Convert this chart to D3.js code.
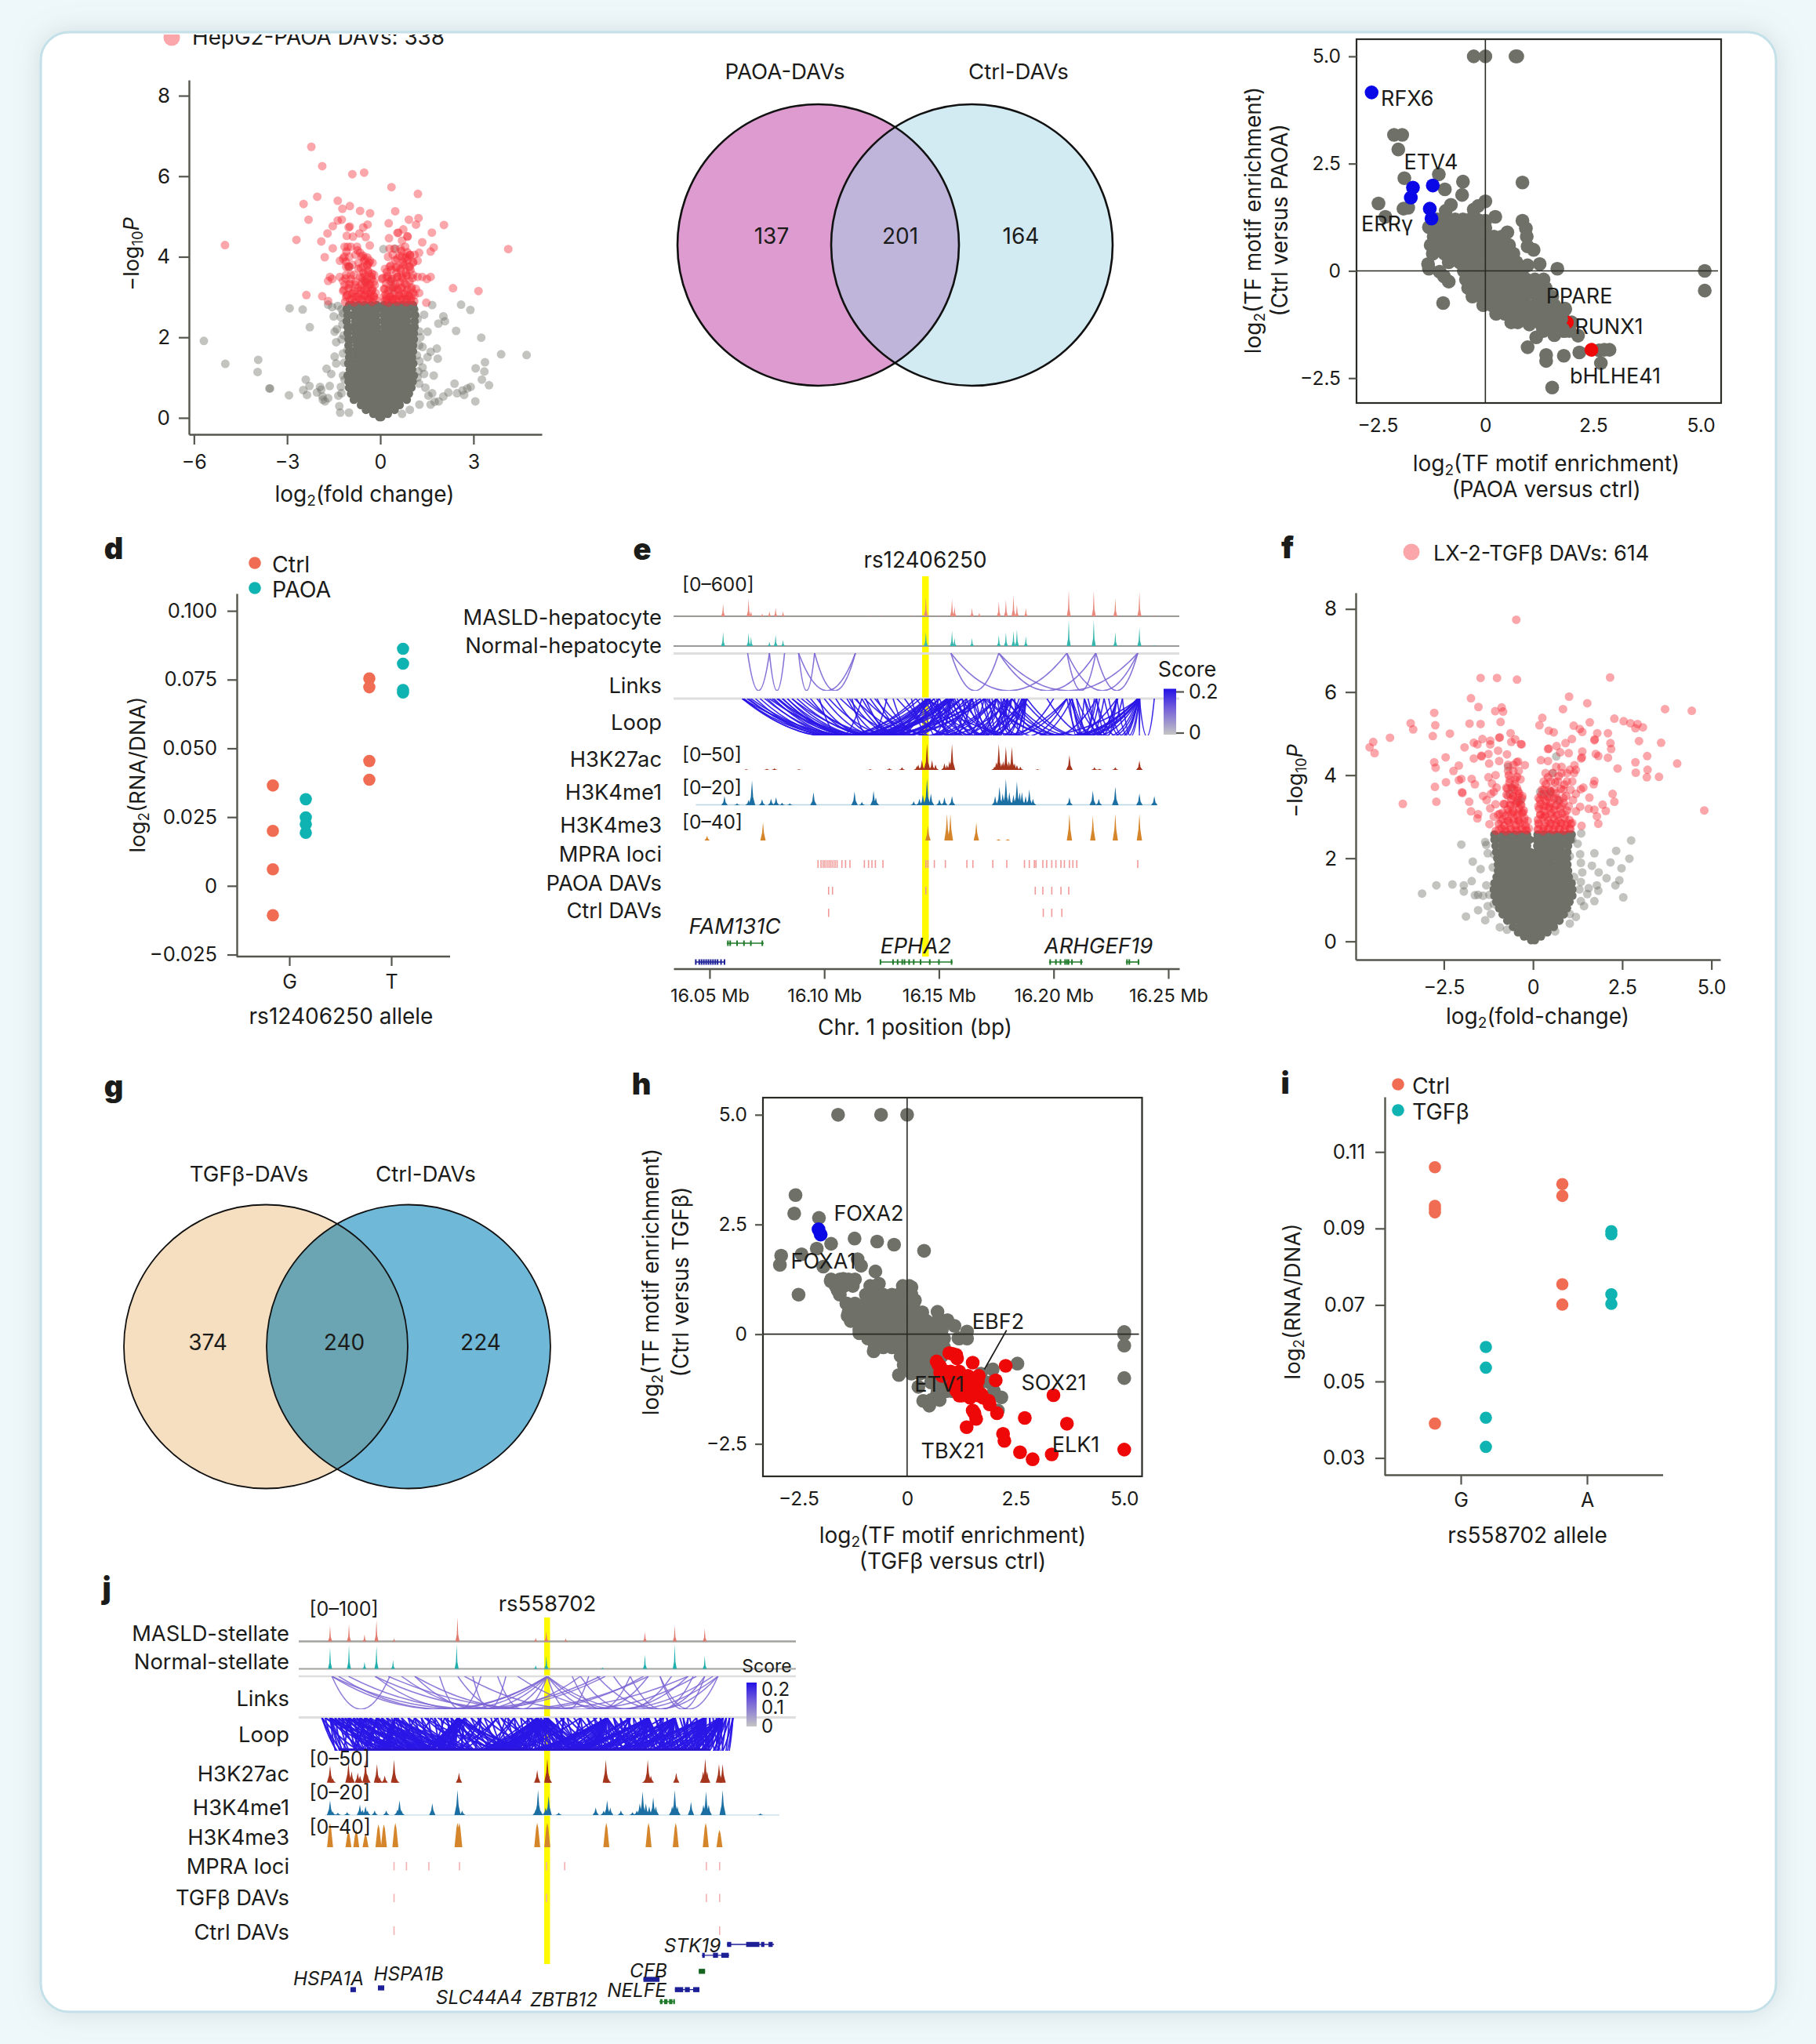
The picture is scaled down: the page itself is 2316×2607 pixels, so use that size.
<!DOCTYPE html>
<html><head><meta charset="utf-8">
<script src="https://cdnjs.cloudflare.com/ajax/libs/d3/7.8.5/d3.min.js"></script>
<style>
html,body{margin:0;padding:0;background:#eef7f9}
svg{display:block}
text{font-family:Inter,"Noto Sans",sans-serif;fill:#1b1b19}
</style></head><body>
<script>
// ---- panel a: HepG2-PAOA volcano, [log2FC, -log10P] ----
const aGrey=[[-2.92,2.72],[-2.5,2.69],[-2.27,2.25],[-5.68,1.91],[-4.99,1.34],[-3.93,1.44],[-3.95,1.14],[-3.57,.73],[-3.55,.73],[-2.94,.56],[-2.4,.95],[-2.28,.79],[-2.48,.69],[-2.36,.57],[-1.94,.77],[-2.04,.63],[-1.86,.53],[-1.63,.79],[-1.78,.41],[-1.68,.49],[-1.32,.29],[-1.29,.13],[-1.01,.13],[-1.73,1.22],[-1.58,1.09],[-1.47,1.52],[-1.16,1.37],[-1.42,1.88],[-1.25,1.95],[-1.47,2.14],[-1.22,2.32],[-1.5,2.52],[-1.27,2.5],[-1.68,2.81],[-1.37,2.78],[-1.06,1.68],[-1.27,.77],[-1.25,.61],[-1.9,.7],[-1.85,.45],[-1.42,1.35],[-1.2,1.05],[-1.35,.55],[-1.15,.95],[-1.4,2.2],[-1.25,2.7],[-1.55,2.75],[-1.2,1.6],[-1.18,2.05],[-1.2,2.6],
[1.67,2.8],[2.6,2.81],[2.9,2.68],[2.03,2.52],[2.08,2.4],[1.87,2.34],[1.41,2.56],[2.44,2.16],[1.52,2.14],[3.25,1.99],[1.82,1.72],[1.62,1.64],[1.52,1.51],[1.85,1.47],[3.89,1.58],[4.71,1.56],[3.37,1.38],[3.07,1.23],[3.35,1.15],[3.27,.95],[3.5,.81],[2.39,.85],[2.91,.77],[2.8,.73],[2.65,.68],[2.47,.61],[2.7,.57],[3.06,.41],[2.19,.63],[2.03,.53],[1.67,.61],[1.88,.41],[1.62,.33],[1.26,.33],[1.41,1.09],[1.36,1.25],[1.26,1.41],[1.36,1.76],[1.29,2.0],[1.1,2.32],[1.1,2.68],[1.25,.85],[1.45,.75],[1.25,1.8],[1.18,1.55],[1.22,1.15],[1.72,1.05],[1.55,.55],[1.75,.4],[.95,.2],[.7,.1],[1.2,2.45],[1.25,2.15],[1.2,1.0],[.1,4.19],[.48,4.2],[-1.0,3.75],[.35,3.4],[.85,2.95],[-.5,3.4],[.4,3.2]];
const aCoreRows=[[.02,[-.03,.03]],[.1,[-.22,-.06,.08,.24]],[.2,[-.46,-.28,-.1,.1,.28,.46]],[.32,[-.62,-.42,-.22,-.02,.18,.4,.62]],[.45,[-.85,-.62,-.42,-.2,0,.2,.42,.62,.85]],[.6,[-.94,-.72,-.5,-.3,-.1,.1,.3,.5,.72,.92]],[.75,[-1.0,-.8,-.6,-.4,-.2,0,.2,.4,.6,.8,1.0]],[.9,[-1.02,-.9,-.7,-.5,-.3,-.1,.1,.3,.5,.7,.9,1.04]],[1.05,[-1.05,-.85,-.65,-.45,-.25,-.05,.15,.35,.55,.75,.95,1.08]],[1.2,[-.98,-.75,-.55,-.35,-.15,.05,.25,.45,.65,.85,1.02]],[1.35,[-1.03,-.85,-.65,-.45,-.25,-.05,.15,.35,.55,.75,.95,1.06]],[1.5,[-1.0,-.75,-.55,-.35,-.15,.05,.25,.45,.65,.85,1.02]],[1.65,[-1.0,-.85,-.65,-.45,-.25,-.05,.15,.35,.55,.75,.95,1.05]],[1.8,[-1.02,-.75,-.55,-.35,-.15,.05,.25,.45,.65,.85,1.05]],[1.95,[-1.02,-.85,-.65,-.45,-.25,-.07,.15,.35,.55,.75,.95,1.08]],[2.1,[-1.05,-.8,-.6,-.4,-.2,-.06,.1,.3,.5,.7,.9,1.08]],[2.25,[-1.05,-.9,-.7,-.5,-.3,-.12,.12,.3,.5,.7,.9,1.1]],[2.4,[-1.08,-.8,-.6,-.4,-.2,-.1,.11,.25,.45,.65,.85,1.1]],[2.55,[-1.05,-.9,-.7,-.5,-.3,-.13,.11,.3,.5,.7,.9,1.12]],[2.7,[-1.08,-.8,-.6,-.4,-.2,-.1,.1,.25,.45,.65,.85,1.08]],[2.8,[-1.0,-.9,-.7,-.5,-.3,-.12,.12,.3,.5,.7,.9,1.05]]];
const aRed=[[-2.22,6.73],[-1.87,6.25],[-.9,6.05],[-.52,6.09],[.36,5.73],[1.21,5.56],[-2.03,5.49],[-2.47,5.31],[-1.37,5.39],[-1.22,5.19],[-.98,5.26],[-.65,5.14],[-.33,5.08],[.48,5.13],[1.23,4.96],[.92,4.92],[1.15,4.8],[2.05,4.79],[-2.31,4.92],[-1.24,4.92],[-1.37,4.9],[-1.53,4.76],[-1.02,4.73],[-.98,4.75],[-.41,4.8],[-.55,4.73],[.27,4.83],[-1.7,4.58],[.74,4.68],[.55,4.59],[.58,4.6],[.87,4.51],[.88,4.5],[1.66,4.6],[1.35,4.36],[-2.7,4.42],[-1.9,4.38],[-1.08,4.52],[-.88,4.5],[-.47,4.49],[-.67,4.58],[.28,4.46],[-5.0,4.29],[4.12,4.19],[-.34,4.28],[1.72,4.23],[1.62,4.13],[-1.53,4.21],[-1.79,3.99],[2.34,3.22],[3.16,3.15],[-2.38,3.05],[-1.87,3.02],[-1.68,2.9],[1.48,2.86],
[-1.3,3.5],[-1.2,3.4],[-1.62,3.5],[-1.68,3.4],[-1.55,3.45],[-1.1,3.0],[-1.2,3.15],[-1.0,3.3],[-.9,3.1],[-.8,3.3],[-.7,3.0],[-.6,3.2],[-.5,3.05],[-.4,3.0],[-.3,3.0],[-.2,3.0],[-.55,3.4],[-.45,3.35],[-.35,3.3],[-.25,3.2],[-.65,3.5],[-.5,3.55],[-.38,3.6],[-.28,3.45],[-.18,3.3],[-.7,3.7],[-.55,3.75],[-.42,3.8],[-.33,3.9],[-.25,3.85],[-1.0,3.75],[-1.1,3.75],[-.9,3.8],[-1.3,3.9],[-1.2,3.95],[-1.0,4.0],[-.8,4.05],[-.65,4.1],[-.75,4.25],[-.6,4.0],[-.5,3.95],[-1.15,4.25],[-1.05,4.25],[-.95,4.25],[-.7,3.85],[-.85,3.55],[-.95,3.45],[-1.1,3.55],[-1.15,3.3],[-.45,3.15],[-.65,3.15],[-.85,3.0],[-1.05,3.05],[-.3,3.15],[-.2,3.55],[-.15,3.1],[-.9,2.95],[-.6,2.95],[-.35,2.95],[-.95,3.55],
[.1,3.0],[.2,2.95],[.3,3.0],[.4,3.0],[.5,2.95],[.6,3.05],[.7,3.0],[.8,3.1],[.9,3.05],[1.0,3.0],[1.1,3.05],[.15,3.2],[.3,3.2],[.45,3.25],[.55,3.2],[.7,3.25],[.85,3.3],[1.0,3.2],[1.15,3.2],[1.25,3.1],[.05,3.45],[.2,3.5],[.35,3.45],[.55,3.5],[.7,3.5],[.85,3.55],[1.05,3.55],[1.2,3.5],[1.35,3.5],[1.5,3.45],[1.62,3.5],[.15,3.7],[.3,3.75],[.5,3.75],[.65,3.7],[.8,3.8],[.95,3.75],[1.05,3.85],[1.2,3.9],[.25,4.0],[.4,4.05],[.55,3.95],[.7,4.0],[.85,4.0],[.95,4.05],[1.1,4.05],[1.25,4.1],[.3,4.2],[.45,4.2],[.65,4.2],[.8,4.25],[.7,4.4],[.2,3.0],[.4,2.95],[.65,2.95],[.85,2.95]];
const aRedDense=[[-1.13,2.88],[-.97,2.93],[-.84,2.87],[-.68,2.95],[-.56,2.89],[-.41,2.94],[-.27,2.88],[-.14,2.93],[.13,2.9],[.27,2.86],[.39,2.94],[.54,2.88],[.71,2.93],[.83,2.87],[.98,2.92],[1.09,2.89],[-1.08,3.04],[-.91,3.09],[-.76,3.01],[-.63,3.08],[-.49,3.03],[-.33,3.09],[-.21,3.02],[.17,3.06],[.33,3.01],[.46,3.09],[.61,3.03],[.78,3.08],[.93,3.02],[1.06,3.1],[-1.17,3.18],[-1.02,3.22],[-.83,3.16],[-.72,3.23],[-.52,3.18],[-.42,3.24],[-.26,3.17],[.12,3.2],[.26,3.16],[.41,3.24],[.57,3.17],[.68,3.22],[.87,3.18],[1.01,3.24],[-.97,3.33],[-.79,3.38],[-.62,3.31],[-.47,3.37],[-.33,3.32],[-.21,3.38],[.19,3.34],[.31,3.39],[.48,3.32],[.63,3.37],[.79,3.33],[.94,3.39],[-1.12,3.46],[-.58,3.49],[-.43,3.44],[-.29,3.5],[.07,3.47],[.24,3.52],[.39,3.45],[.56,3.5],[.71,3.46],[.84,3.52],[1.04,3.47],[-.54,3.6],[-.39,3.65],[-.27,3.58],[.21,3.62],[.36,3.68],[.52,3.6],[.66,3.66],[.82,3.61],[.97,3.67],[-1.03,3.76],[-.63,3.72],[-.41,3.79],[.33,3.78],[.53,3.73],[.74,3.8],[.92,3.75],[-1.11,3.88],[-.52,3.9],[-.36,3.85],[.48,3.91],[.72,3.86],[.89,3.93],[1.06,3.87],[-1.16,4.0],[-.56,4.03],[-.42,3.98],[.62,4.02],[.81,3.97],[.96,4.04],[-1.09,4.13],[-.73,4.16],[.68,4.14],[.87,4.11]];

// ---- panel f: LX-2-TGFb volcano ----
const fGrey=[[-2.01,2.33],[-1.34,2.39],[-1.31,2.32],[2.75,2.43],[2.33,2.18],[1.72,2.12],[1.32,2.1],[1.34,1.89],[1.03,2.05],[2.7,1.99],[2.17,1.9],[1.65,1.82],[2.48,1.76],[1.84,1.66],[2.06,1.52],[2.42,1.47],[2.31,1.35],[1.79,1.35],[1.83,1.22],[1.56,1.28],[1.52,1.14],[1.72,.97],[2.53,1.06],[1.07,1.28],[1.34,1.43],[1.38,1.66],[1.43,.85],[1.34,.97],[1.03,.66],[1.2,.59],[1.03,.43],[.62,.24],[1.3,1.25],[1.15,1.55],[1.25,2.35],[1.1,2.45],[1.35,2.6],
[-1.69,1.92],[-1.47,1.74],[-1.09,2.09],[-1.27,2.12],[-1.13,1.78],[-2.71,1.35],[-2.26,1.37],[-3.11,1.15],[-1.94,1.35],[-1.94,1.2],[-1.72,1.45],[-1.31,1.35],[-1.63,1.11],[-1.54,1.12],[-1.22,1.12],[-1.27,.85],[-1.54,.75],[-1.18,.66],[-1.34,.51],[-1.88,.6],[-.93,.34],[-.73,.28],[-1.4,1.1],[-1.1,.9],
[.5,3.6],[.45,3.55],[-.4,3.35],[-.6,3.7],[-.7,4.2],[.65,4.45],[.55,4.05],[-.35,3.4],[.3,3.55],[.2,3.6],[.7,3.4],[-.65,3.55]];
const fCoreRows=[[.03,[-.05,.05]],[.12,[-.25,-.1,.08,.22]],[.22,[-.42,-.26,-.1,.06,.22,.4]],[.35,[-.56,-.38,-.21,-.04,.13,.3,.47,.58]],[.5,[-.72,-.55,-.38,-.21,-.04,.13,.3,.47,.64,.74]],[.65,[-.85,-.66,-.49,-.32,-.15,.02,.19,.36,.53,.7,.86]],[.8,[-.95,-.76,-.59,-.42,-.25,-.08,.09,.26,.43,.6,.77,.95]],[.95,[-1.03,-.86,-.69,-.52,-.35,-.18,-.01,.16,.33,.5,.67,.84,1.02]],[1.1,[-1.08,-.92,-.75,-.58,-.41,-.24,-.07,.1,.27,.44,.61,.78,.95,1.1]],[1.25,[-1.1,-.95,-.78,-.61,-.44,-.27,-.1,.07,.24,.41,.58,.75,.92,1.1]],[1.4,[-1.08,-.9,-.73,-.56,-.39,-.22,-.05,.12,.29,.46,.63,.8,.97,1.08]],[1.55,[-1.02,-.85,-.68,-.51,-.34,-.17,0,.17,.34,.51,.68,.85,1.0]],[1.7,[-.98,-.8,-.63,-.46,-.29,-.12,.05,.22,.39,.56,.73,.9,.98]],[1.85,[-.98,-.85,-.68,-.51,-.34,-.17,-.02,.17,.34,.51,.68,.85,.96]],[2.0,[-1.0,-.82,-.65,-.48,-.31,-.14,.04,.18,.35,.52,.69,.86,.95]],[2.15,[-1.03,-.88,-.71,-.54,-.37,-.2,-.08,.1,.27,.44,.61,.78,.96]],[2.3,[-1.05,-.85,-.68,-.51,-.34,-.17,.12,.28,.45,.62,.79,.98]],[2.45,[-1.08,-.9,-.73,-.56,-.39,-.22,-.1,.1,.24,.41,.58,.75,.92,1.05]],[2.57,[-1.08,-.85,-.68,-.51,-.34,-.17,.13,.3,.47,.64,.81,.98,1.08]]];
const fRed=[[-.47,7.74],[-1.47,6.34],[-1.01,6.34],[-.45,6.3],[2.16,6.35],[-1.74,5.85],[1.01,5.89],[-1.53,5.64],[-1.06,5.54],[-.88,5.63],[-.84,5.53],[.84,5.59],[1.52,5.73],[3.7,5.59],[4.45,5.55],[-2.77,5.5],[.26,5.38],[2.28,5.36],[2.54,5.3],[2.73,5.25],[2.93,5.23],[2.87,5.13],[3.08,5.15],[1.59,5.27],[1.14,5.19],[-.91,5.28],[-1.78,5.24],[-1.47,5.23],[-2.74,5.2],[-3.43,5.25],[-3.36,5.1],[.18,5.2],[.44,5.07],[.58,5.03],[1.31,5.11],[1.38,5.04],[1.8,5.01],[2.1,5.01],[-2.33,5.0],[-2.81,4.94],[-4.01,4.9],[-4.48,4.8],[-4.58,4.67],[-4.44,4.53],[-.63,5.01],[-1.42,4.87],[-1.2,4.83],[-.95,4.9],[-.93,4.91],[-.5,4.86],[-.61,4.8],[-.32,4.74],[-.34,4.75],[-1.66,4.78],[-1.56,4.74],[-1.2,4.74],[-1.92,4.67],[.66,4.7],[.42,4.63],[.44,4.64],[.91,4.77],[1.09,4.87],[1.73,4.86],[1.72,4.84],[2.17,4.77],[2.19,4.63],[2.97,4.82],[3.59,4.78],[1.38,4.57],[1.37,4.43],[1.35,4.4],[1.76,4.51],[1.83,4.46],[2.1,4.42],[3.2,4.46],[2.87,4.31],[4.04,4.28],[2.37,4.16],[3.21,4.13],[2.88,4.06],[3.53,3.96],[3.19,3.95],[-2.45,4.43],[-2.77,4.31],[-2.73,4.18],[-2.08,4.23],[-2.23,4.1],[-.73,4.5],[-.98,4.59],[-1.25,4.51],[-1.45,4.47],[-1.44,4.45],[-1.66,4.4],[-1.23,4.28],[-.95,4.34],[-.46,4.31],[-.42,4.33],[-.23,4.24],[.22,4.36],[.42,4.34],[.76,4.55],[1.0,4.53],[1.16,4.24],[-2.01,3.91],[-2.08,3.88],[-2.44,3.83],[-2.75,3.72],[-2.71,3.36],[-3.65,3.31],[-1.99,3.59],[-1.98,3.57],[-1.72,3.91],[-1.63,3.78],[-1.79,3.36],[-1.74,3.13],[-1.54,3.06],[-1.56,2.96],[-1.22,2.82],[4.8,3.15],[2.23,3.55],[2.28,3.36],[1.95,3.29],[2.04,3.14],[1.83,2.83],[1.79,3.01],[1.72,3.86],[1.7,3.78],[1.58,3.46],[1.56,3.19],[1.72,3.17],[1.36,2.78],[1.32,3.24],[1.2,3.13],[1.34,3.66],[1.41,3.7],[1.2,4.13],[1.03,4.13],
[-.95,2.7],[-.8,2.7],[-.65,2.7],[-.5,2.7],[-.35,2.7],[-.2,2.7],[-.12,2.72],[-.9,2.9],[-.7,2.9],[-.55,2.9],[-.4,2.9],[-.25,2.9],[-.15,2.9],[-.85,3.1],[-.7,3.1],[-.55,3.1],[-.4,3.1],[-.28,3.1],[-.8,3.3],[-.65,3.3],[-.5,3.3],[-.35,3.3],[-.7,3.5],[-.55,3.5],[-.42,3.5],[-.3,3.5],[-.75,3.7],[-.6,3.7],[-.45,3.7],[-.65,3.9],[-.5,3.9],[-.35,3.9],[-.7,4.1],[-.55,4.1],[-.4,4.1],[-.7,4.25],[-.55,4.25],[-1.05,3.3],[-1.1,3.0],[-1.15,3.8],[-1.25,3.95],[-1.05,4.0],[-1.3,3.4],[-1.4,3.5],[-1.1,3.6],[-.98,3.05],[-1.18,3.55],[-1.02,3.7],[-1.2,3.2],
[.15,2.7],[.3,2.7],[.45,2.7],[.6,2.7],[.75,2.7],[.9,2.7],[1.05,2.7],[.15,2.85],[.35,2.85],[.5,2.85],[.65,2.85],[.8,2.85],[.95,2.85],[1.1,2.85],[.2,3.05],[.35,3.05],[.5,3.05],[.7,3.05],[.9,3.05],[.15,3.25],[.3,3.25],[.45,3.25],[.6,3.25],[.8,3.25],[1.0,3.25],[.15,3.45],[.3,3.45],[.45,3.45],[.65,3.45],[.85,3.45],[.25,3.65],[.45,3.65],[.6,3.65],[.85,3.65],[1.05,3.65],[.3,3.85],[.5,3.85],[.7,3.85],[.95,3.85],[1.1,3.85],[.35,4.05],[.55,4.05],[.8,4.05],[.95,4.05],[1.15,4.05],[.65,4.2],[.8,4.2],[1.12,3.4],[1.2,3.55]];
const fRedDense=[[-1.04,2.66],[-.88,2.72],[-.76,2.65],[-.61,2.71],[-.46,2.66],[-.31,2.72],[-.18,2.67],[.13,2.69],[.28,2.65],[.43,2.72],[.56,2.67],[.73,2.71],[.86,2.66],[1.03,2.72],[-.96,2.83],[-.81,2.78],[-.66,2.85],[-.49,2.79],[-.36,2.84],[-.21,2.78],[.16,2.82],[.31,2.77],[.48,2.84],[.63,2.79],[.78,2.85],[.91,2.79],[1.06,2.83],[-.86,2.94],[-.71,2.9],[-.54,2.96],[-.41,2.91],[-.24,2.97],[.14,2.93],[.28,2.98],[.43,2.91],[.58,2.96],[.71,2.9],[.88,2.97],[1.02,2.92],[-.93,3.07],[-.77,3.02],[-.61,3.08],[-.44,3.03],[-.31,3.09],[.21,3.05],[.34,3.01],[.51,3.09],[.66,3.03],[.81,3.08],[-.71,3.18],[-.56,3.14],[-.39,3.2],[-.26,3.15],[.17,3.19],[.31,3.14],[.46,3.21],[.59,3.16],[.76,3.2],[.95,3.15],[-.82,3.31],[-.63,3.27],[-.47,3.33],[-.33,3.28],[.21,3.31],[.36,3.26],[.49,3.33],[.66,3.28],[.86,3.33],[-.61,3.42],[-.44,3.38],[-.31,3.44],[.19,3.41],[.36,3.37],[.59,3.44],[.74,3.39],[-.74,3.53],[-.56,3.5],[-.39,3.56],[.23,3.53],[.41,3.49],[.64,3.56],[.93,3.5],[-.54,3.66],[-.42,3.62],[-.72,3.68],[.31,3.65],[.49,3.61],[.78,3.67],[-.51,3.78],[-.66,3.82],[.36,3.78],[.62,3.83],[.88,3.77],[-.45,3.96],[.42,3.95],[.72,3.98],[-.68,4.0]];

// ---- panel c: motif enrichment, PAOA versus ctrl ----
const cGrey=[[-.27,5],[0,5],[.7,5],[.74,5],[-2.12,3.17],[-1.93,3.17],[-2.02,2.83],[-1.88,2.16],[-1.08,2.25],[-.52,2.08],[.86,2.06],[-2.48,1.57],[-2.32,1.26],[-1.9,1.45],[-1.79,1.47],[-.94,1.9],[-.54,1.77],[0,1.62],[-.27,1.43],[-.17,1.51],[.23,1.26],[0,1.17],[-.13,1.17],[-1.31,1.02],[-.8,1.54],[-.92,1.4],[.86,1.17],[.94,.99],[.51,.9],[.19,.76],[.96,.8],[.98,.57],[1.12,.49],[5.09,0],[5.09,-.46],[1.67,.05],[1.26,.16],[.98,.13],[-1.33,.16],[-1.31,.05],[-1.06,-.02],[-.96,-.13],[-.85,-.25],[-.98,-.75],[1.85,-.88],[1.45,-.92],[1.45,-1.07],[.98,-1.1],[1.18,-1.1],[1.02,-1.25],[1.33,-1.33],[1.6,-1.5],[1.85,-1.4],[2.15,-1.51],[1.18,-1.55],[.98,-1.78],[1.41,-1.96],[1.41,-2.1],[1.82,-1.98],[2.18,-1.9],[2.68,-2.15],[1.55,-2.72],[2.64,-1.85],[2.88,-1.84],[2.76,-1.84],[1.8,-1.1],[1.95,-1.3],[1.7,-1.35]];
const cCoreRows=[[1.2,[-1.12,-.92,-.7,-.52,-.35,-.2]],[1.0,[-1.22,-1.0,-.8,-.62,-.4,-.2,0]],[.8,[-1.2,-1.02,-.8,-.58,-.4,-.2,.02,.2,.38]],[.6,[-1.27,-1.05,-.85,-.65,-.45,-.25,-.05,.15,.35,.55]],[.4,[-1.22,-.95,-.75,-.55,-.35,-.15,.05,.25,.45,.65]],[.2,[-.85,-.6,-.4,-.2,0,.2,.4,.6,.72]],[0,[-.5,-.3,-.1,.1,.3,.5,.7,.85]],[-.2,[-.45,-.25,-.05,.15,.35,.55,.75,.95,1.15,1.35]],[-.4,[-.4,-.2,0,.2,.4,.6,.8,1.05,1.3,1.4]],[-.6,[-.3,-.1,.1,.3,.5,.7,.9,1.2,1.4,1.55]],[-.8,[-.05,.15,.35,.55,.75,.95,1.15,1.4,1.6]],[-1.0,[.25,.45,.65,.85,1.05,1.3,1.5,1.7]],[-1.2,[.6,.75,1.25,1.45,1.65,1.85,2.0]],[-1.4,[1.35,1.6,1.8,1.95]]];
const cBlue=[[-2.64,4.16],[-1.68,1.94],[-1.73,1.71],[-1.22,1.99],[-1.29,1.45],[-1.25,1.22]];
const cRed=[[2.46,-1.84],[1.89,-1.2]];
const cOver=[[1.76,-1.12],[1.8,-1.36],[1.85,-.9]];
const cLabels=[["RFX6",1761,125,"start"],["ETV4",1825,206,"middle"],["ERRγ",1769,285,"middle"],["PPARE",2014,377,"middle"],["RUNX1",2052,416,"middle"],["bHLHE41",2060,479,"middle"]];

// ---- panel h: motif enrichment, TGFb versus ctrl ----
const hGrey=[[-1.59,5],[-.6,5],[0,5],[-2.57,3.17],[-2.6,2.75],[-2.03,2.65],[-1.21,2.18],[-.69,2.11],[-.3,2.04],[.39,1.9],[-1.75,2.06],[-2.08,1.95],[-2.9,1.79],[-2.93,1.58],[-2.43,1.82],[-2.5,.9],[-1.93,1.54],[-1.14,1.71],[-1.06,1.56],[-.73,1.43],[-.65,1.15],[-1.76,1.21],[-1.6,1.0],[-1.47,1.26],[-1.27,1.17],[-1.39,.7],[-1.37,.42],[-1.06,.51],[-1.1,.02],[-.77,-.39],[-.19,-.93],[-.1,.96],[.1,1.07],[.18,.77],[.7,.51],[.93,.32],[1.09,.19],[1.38,.06],[1.18,-.09],[2.54,-.67],[1.97,-.8],[.26,-1.2],[.37,-1.52],[.51,-1.63],[.68,-1.4],[2.17,-1.44],[2.09,-1.74],[1.67,-1.07],[5,0],[5,-.26],[5,-1.0],[5,.05]];
const hCoreRows=[[1.25,[-1.75,-1.55,-1.35,-1.2]],[1.1,[-1.65,-1.45,-1.25,-.85,-.7,-.1,.05]],[.9,[-1.55,-.95,-.75,-.55,-.35,-.2,-.05,.1]],[.7,[-1.4,-1.2,-.95,-.75,-.55,-.4,-.2,-.02,.15]],[.5,[-1.35,-1.1,-.85,-.65,-.45,-.25,-.05,.15,.35]],[.3,[-1.3,-1.05,-.8,-.6,-.4,-.2,0,.2,.45,.7,.85]],[.1,[-1.1,-.85,-.6,-.4,-.2,0,.2,.4,.6,.8]],[-.1,[-.9,-.7,-.5,-.3,-.1,.1,.3,.5,.7,.85,1.2,1.38]],[-.3,[-.75,-.55,-.35,-.15,.05,.25,.45,.65,.85]],[-.5,[-.15,.05,.25,.45,.6,.8]],[-.7,[-.08,.12,.3,.5,.7]],[-.9,[.1,.3,.5,.75,1.7]],[-1.1,[.55,.75,.95,1.7,1.9]],[-1.3,[.7,.9,1.05,2.0]],[-1.5,[.55,.75]]];
const hRed=[[.68,-.62],[.76,-.73],[.76,-.88],[.97,-.43],[1.13,-.47],[1.51,-.65],[2.27,-.72],[2.04,-1.05],[1.63,-1.07],[1.18,-.99],[1.05,-.92],[1.34,-1.1],[1.13,-1.29],[1.26,-1.4],[1.51,-1.33],[1.71,-1.37],[1.88,-1.52],[2.07,-1.8],[1.51,-1.74],[1.59,-1.93],[1.37,-2.12],[2.21,-2.27],[2.24,-2.43],[2.6,-2.69],[2.89,-2.85],[2.71,-1.91],[3.37,-1.39],[3.68,-2.04],[3.33,-2.74],[5,-2.63],[1.3,-1.18],[1.42,-1.22],
[.72,-.7],[.8,-.95],[.9,-.85],[1,-.85],[1.2,-.85],[1.1,-1.1],[1.4,-.95],[1.25,-1.05],[1.45,-1.05],[1.2,-1.2],[1.35,-1.3],[1.45,-1.45],[1.6,-1.2],[1.75,-1.45],[1.9,-1.6],[1.65,-1.4],[1.55,-1.8],[1.05,-.45],[1.15,-.55],[1.65,-.95],[1.05,-1.15],[1.2,-1.4]];
const hBlue=[[-2.04,2.39],[-1.99,2.27]];
const hLabels=[["FOXA2",1108,1547,"middle"],["FOXA1",1050,1608,"middle"],["EBF2",1273,1685,"middle"],["ETV1",1198,1765,"middle"],["SOX21",1344,1763,"middle"],["TBX21",1215,1850,"middle"],["ELK1",1372,1842,"middle"]];
const hLeader=[[2.29,.09],[1.78,-.8]];

// ---- panels d and i: MPRA activity per allele ----
const dAlleles=["G","T"];
const dCtrl=[[.0365,.02,.006,-.0107],[.0754,.0722,.0454,.0386]];
const dTreated=[[.0315,.0249,.0224,.0193],[.0862,.0808,.0712,.0703]];
const iAlleles=["G","A"];
const iCtrl=[[.106,.0959,.095,.0942,.039],[.1016,.0985,.0754,.0701]];
const iTreated=[[.059,.0536,.0405,.0329],[.0893,.0885,.0728,.0703]];

// ---- venn counts ----
const bCounts=[137,201,164], gCounts=[374,240,224];

// ---- panel e tracks; positions are kb from 16.05 Mb ----
const eTicks=[0,50,100,150,200];
const eMasld=[[5.9,270],[17,370],[18.1,110],[22.9,55],[26.1,105],[28.8,175],[32,100],[70,15],[75,15],[88,20],[94.3,420],[100,20],[105.7,365],[106.8,210],[114.4,175],[117.6,70],[126.1,315],[129.2,350],[132.5,455],[134,245],[137.9,175],[156.6,560],[167.5,545],[176.9,385],[187.4,525],[193.9,20]];
const eNormal=[[5.9,300],[17,280],[18.1,200],[26.1,90],[28.8,240],[32,130],[94.3,300],[105.7,320],[106.8,170],[114.4,170],[126.1,230],[129.2,290],[132.5,320],[134,350],[137.9,210],[156.6,560],[167.5,560],[176.9,300],[187.4,400],[193.9,15]];
const eAc=[[94.8,48],[92.6,18],[97,18],[91,10],[98.5,10],[83.9,5],[90.4,7],[105.7,47],[102.4,12],[103.5,9],[104.6,16],[126.1,47],[129.2,42],[131.8,42],[124.2,6],[125,14],[128,16],[130.5,16],[133,12],[134,9],[135.5,6],[127.5,12],[156.9,27],[187.4,17],[167.8,5],[176.9,5],[25,2],[28.3,3],[78.4,3],[16,1.5],[39,1.5],[70,1.5],[143,1.5],[170,2]];
const eMe1=[[18.5,19],[6.5,7],[22.9,4.5],[26.8,5],[29,6],[31.6,2],[45.3,10],[63.2,10.5],[66.4,2.5],[71.5,11],[72.5,6],[94.8,20],[91.5,5],[89,3],[93,8],[96.5,9],[100.2,4.5],[102.4,6],[105.7,7],[126.4,14],[124.5,7],[127.8,9],[129.2,20],[130.7,10],[132.5,8],[134,18],[135.2,10],[136.2,10],[137.8,7],[139.4,12],[141,5],[156.9,6],[167.1,11],[169.7,5],[176.9,14],[187.4,9],[193.9,7],[12,1.5],[17,4],[35,1.5]];
const eMe3=[[-1.1,7],[23.3,27],[95.2,22],[103.5,40],[105,40],[116.3,27],[126,2],[130,2],[156.9,40],[167.1,37],[176.9,40],[187.4,40]];
const eMpra=[47.3,48.6,49.5,50.3,51.2,52.1,52.9,53.8,54.7,55.6,57.7,59.3,61.2,67.5,69.3,70.8,72.3,75.6,94.3,95.2,98,102.8,112.2,114.8,123.5,129.6,137.3,139.4,141.6,142.3,145.3,147,149.2,151,153.2,154.7,156.9,158.4,160.1,186.7];
const eTreatDav=[51.9,53.6,94.3,142,145.3,149.2,153.2,156.6];
const eCtrlDav=[51.9,145.5,149.2,153.6];
const eLinks=[[16.6,26.1],[26.1,32.7],[38.8,45.8],[45.8,63.6],[38.8,63.6],[105.2,126.1],[105.2,155.8],[126.1,168.4],[126.1,186.7],[155.8,168.4],[168.4,186.7],[155.8,186.7]];
const eLoops=[[14.2,94.8],[14.2,103.5],[16.3,106.8],[25,95.9],[27.2,105.7],[29.4,100.2],[29.4,114.4],[31.6,103.5],[33.8,105.7],[35.9,119.8],[38.1,110],[46.8,94.8],[47.9,66.4],[59.9,95.9],[61,105.7],[62.1,77.3],[63.2,125.3],[66.4,103.5],[67.5,131.8],[73,105.7],[76.3,114.4],[81.7,138.3],[92.6,105.7],[93.7,125.3],[94.8,131.8],[94.8,155.8],[95.9,138.3],[98,114.4],[100.2,128.5],[103.5,119.8],[103.5,131.8],[104.6,138.3],[105.7,125.3],[105.7,155.8],[106.8,136.2],[114.4,128.5],[114.4,138.3],[119.8,131.8],[119.8,155.8],[123.1,136.2],[125.3,138.3],[125.3,158],[128.5,137.3],[129.6,168.8],[131.8,177.6],[131.8,187.4],[136.2,187.4],[138.3,187.4],[155.8,168.8],[156.9,163.4],[158,177.6],[158,167.8],[163.4,177.6],[163.4,187.4],[168.4,187.4],[168.8,177.6],[177.6,187.4],[187.4,193.9],[120.9,187],[147.1,187.4],[94.8,187.4],[187.2,187.6],
[14.5,120],[15,92],[17,98],[18,110],[20,90],[22,95],[24,104],[26,118],[28,95],[30,105],[32,98],[34,96],[36,104],[40,120],[42,110],[44,96],[50,100],[52,112],[55,95],[57,125],[64,104],[68,95],[70,115],[72,125],[80,100],[85,130],[88,105],[90,137],[96,105],[99,112],[108,130],[110,125],[112,135],[116,130],[118,137],[122,130],[127,138],[133,138],[110,150],[120,187],[125,187],[128,186.5],[160,172],[165,180],[172,187],[174,187],[180,187.4],[157,178],[158,170],[160,187]];
const eGenes=[{name:"FAM131C",start:7.5,end:23.6,row:0,color:"#1f7a2a",exons:[8,9,12,15,18,23]},{name:"",start:-6.2,end:6.8,row:1,color:"#1c1f96",exons:[-6,-4.5,-3.5,-2.5,-1.5,-.5,.5,1.5,2.5,3.5,5,6.5]},{name:"EPHA2",start:74.2,end:106,row:1,color:"#1f7a2a",exons:[74.5,80,82,84,85,87,89,92,96,100,105.5]},{name:"ARHGEF19",start:148,end:162.7,row:1,color:"#1f7a2a",exons:[148.5,151,153,155,155.8,156.5,158,162]},{name:"",start:181.5,end:187.4,row:1,color:"#1f7a2a",exons:[182,183,187]}];

// ---- panel j tracks; positions are kb along the plotted window ----
const jMasld=[[18.9,55],[30.3,60],[39.7,25],[46.9,75],[57.5,10],[95.8,85],[143,12],[149.4,35],[161.1,10],[208.9,32],[226.9,55],[245,45]];
const jNormal=[[18.9,75],[30.3,82],[39.7,25],[46.9,80],[56.9,30],[95.3,85],[143,12],[149.4,45],[183.3,5],[208.9,50],[226.9,85],[245,45]];
const jAc=[[18.9,60],[20.5,15],[30,70],[31.9,40],[35.6,35],[37,25],[40.3,80],[41.5,30],[47.2,65],[48.8,20],[51.9,25],[57.5,80],[59,15],[96.7,35],[143.9,45],[150,85],[151,25],[185.3,80],[186.8,15],[210.6,80],[212.5,25],[209,12],[227.8,35],[245.3,85],[244,40],[246.5,40],[253.6,65],[255.8,65]];
const jMe1=[[18.9,50],[20.5,12],[23.6,8],[29.2,10],[36.9,35],[38.5,18],[40.3,30],[41.5,15],[45.8,15],[52.8,15],[60.8,50],[59.5,18],[62,15],[80.6,40],[95.8,85],[98.6,15],[143,20],[144.4,85],[146,15],[150.8,65],[149,25],[156.9,8],[179.2,25],[184,15],[186.1,50],[188,25],[194.4,15],[201.4,10],[204,15],[207.5,80],[205.8,40],[209.5,40],[211.5,30],[213.9,60],[215.5,30],[226.9,85],[225.3,30],[228.5,30],[236.7,45],[244.2,35],[245.8,80],[247.4,35],[255.8,85],[278.6,5]];
const jMe3=[[18.9,85],[30,55],[34.7,60],[40.3,45],[48.1,80],[51.4,80],[58.3,85],[95.8,85],[96.9,85],[143.9,85],[150,85],[185.6,85],[211.1,85],[227.5,85],[245.6,85],[253.9,60]];
const jMpra=[57.5,65,78.5,97,149.5,160.5,246,254];
const jTreatDav=[57.5,149.5,246,254];
const jCtrlDav=[57.5,254];
const jLinks=[[20,55],[20,150],[20,182],[24,150],[46,150],[46,211],[54,235],[70,208],[70,150],[96,150],[150,253],[150,211],[150,235],[180,253],[218,253],[190,245],[218,245],[105,125],[85,110],[120,150],[150,175],[165,200],[200,238],[30,185],[62,170],[100,240],[132,250],[170,225]];
const jLoops=[[14,47],[14,96],[14,58],[16,40],[16,144],[16,186],[19,30],[19,40],[19,47],[19,58],[19,96],[19,144],[19,150],[19,186],[19,211],[22,37],[22,80],[22,120],[24,47],[24,100],[24,150],[26,58],[26,96],[26,170],[28,70],[28,140],[30,47],[30,58],[30,96],[30,144],[30,150],[30,186],[30,211],[30,227],[33,58],[33,110],[33,186],[35,96],[35,150],[37,58],[37,100],[37,144],[37,211],[40,58],[40,96],[40,150],[40,186],[40,211],[40,245],[43,58],[43,120],[43,200],[47,58],[47,96],[47,144],[47,150],[47,186],[47,211],[47,227],[47,245],[50,96],[50,130],[50,180],[53,96],[53,150],[53,220],[56,100],[58,96],[58,144],[58,150],[58,186],[58,211],[58,227],[58,245],[60,88],[62,110],[62,160],[66,96],[66,150],[66,200],[70,96],[70,144],[70,186],[74,96],[74,130],[76,186],[76,245],[78,96],[80,150],[82,96],[82,144],[84,211],[86,96],[88,150],[88,227],[90,96],[92,100],[92,144],[92,186],[96,110],[96,125],[96,144],[96,150],[96,186],[96,211],[96,227],[96,245],[96,254],[100,144],[100,200],[104,150],[104,211],[108,144],[108,186],[112,150],[112,227],[116,144],[118,186],[120,150],[122,186],[122,245],[126,150],[126,211],[130,144],[130,186],[134,150],[134,227],[138,144],[138,186],[140,186],[140,254],[144,150],[144,160],[144,186],[144,200],[144,211],[144,227],[144,245],[144,254],[146,170],[146,220],[148,186],[148,240],[150,160],[150,170],[150,186],[150,200],[150,211],[150,227],[150,245],[150,256],[155,186],[155,227],[158,211],[158,245],[162,186],[162,254],[166,227],[170,186],[170,245],[174,211],[174,245],[178,211],[178,254],[182,186],[182,227],[186,200],[186,211],[186,227],[186,245],[186,254],[186,256],[190,211],[190,227],[190,256],[194,211],[194,245],[198,227],[198,245],[202,211],[202,254],[206,227],[206,245],[208,256],[211,220],[211,227],[211,235],[211,245],[211,254],[211,256],[215,245],[215,258],[218,227],[218,254],[222,245],[222,254],[227,235],[227,245],[227,254],[227,256],[230,258],[232,245],[232,260],[236,256],[240,245],[240,262],[245,248],[245,254],[245,256],[248,258],[250,262],[252,260],[254,262],[245.5,245.8]];
const jGenes=[{x0:31.2,x1:34.5,row:.79,color:"#1c1f96",exons:[[31.2,34.5]]},{x0:47.8,x1:51.6,row:.76,color:"#1c1f96",exons:[[47.8,51.6]]},{x0:208,x1:217.7,row:.61,color:"#1c1f96",exons:[[208,217.7]]},{x0:241.4,x1:245.2,row:.47,color:"#15651f",exons:[[241.4,245.2]]},{x0:227,x1:241.8,row:.79,color:"#1c1f96",exons:[[227,232],[233,236],[238,241.8]]},{x0:217.6,x1:227,row:1,color:"#1f7a2a",exons:[[218,219.5],[220.5,222.5],[223.5,225.5],[226,227]]},{x0:258.4,x1:286.8,row:0,color:"#1c1f96",exons:[[258.5,261],[270,278],[279,281],[283.5,286]]},{x0:243.3,x1:259.8,row:.19,color:"#1c1f96",exons:[[243.5,245],[250,253],[255,259.5]]}];

const W=2316,H=2607;
const GREY="#6f7068",RED="#f52c38",SALMON="#f06c52",TEAL="#0fb3b1",AXIS="#55564e",LINK="#7b64d4",LOOP="#2a16e6";

const svg=d3.select("body").append("svg").attr("width",W).attr("height",H);
const defs=svg.append("defs");
const sh=defs.append("filter").attr("id","cardGlow").attr("x","-5%").attr("y","-5%").attr("width","110%").attr("height","110%");
sh.append("feDropShadow").attr("dx",0).attr("dy",0).attr("stdDeviation",16).attr("flood-color","#8a9ea6").attr("flood-opacity",.28);
const grad=defs.append("linearGradient").attr("id","scoreRamp").attr("x1",0).attr("y1",1).attr("x2",0).attr("y2",0);
grad.append("stop").attr("offset",0).attr("stop-color","#c4c4c4");
grad.append("stop").attr("offset",.55).attr("stop-color","#7864d8");
grad.append("stop").attr("offset",1).attr("stop-color","#2410e6");
defs.append("clipPath").attr("id","cardClip").append("rect").attr("x",52).attr("y",44).attr("width",2212).attr("height",2520).attr("rx",36);

svg.append("rect").attr("width",W).attr("height",H).attr("fill","#eef7f9");
svg.append("rect").attr("x",52).attr("y",41).attr("width",2213).attr("height",2525).attr("rx",36).attr("fill","#fff").attr("stroke","#c4e0e8").attr("stroke-width",3).attr("filter","url(#cardGlow)");

function txt(g,x,y,s,o={}){
  return g.append("text").attr("x",x).attr("y",y).attr("text-anchor",o.anchor||"middle").attr("dominant-baseline","central")
   .attr("font-size",o.size||28).attr("font-style",o.italic?"italic":null).attr("font-weight",o.weight||null).text(s);
}
// mixed runs: ["text", sub?, italic?]
function rich(g,x,y,runs,o={}){
  const size=o.size||28,shift=size*.3;
  const t=g.append("text").attr("text-anchor","middle").attr("dominant-baseline","central").attr("font-size",size)
    .attr("transform",o.rotate?`translate(${x},${y}) rotate(-90)`:`translate(${x},${y})`);
  let prev=false;
  runs.forEach(r=>{const sp=t.append("tspan").text(r[0]);
    if(r[1]){sp.attr("font-size",size*.68).attr("dy",shift);} else if(prev){sp.attr("dy",-shift);}
    if(r[2]) sp.attr("font-style","italic");
    prev=!!r[1];});
  return t;
}
function letter(s,x,y){txt(svg,x,y,s,{size:38,weight:900});}
function styleAxis(a,size){
  a.selectAll("path.domain").attr("stroke",AXIS).attr("stroke-width",2.4);
  a.selectAll(".tick line").attr("stroke",AXIS).attr("stroke-width",2.2);
  a.selectAll(".tick text").attr("font-size",size||24).attr("font-family","Inter").attr("fill","#1b1b19");
}
const num=d=>d===0?"0":d3.format(".1f")(d).replace("-","−");
const int=d=>String(d).replace("-","−");
const dots=(g,data,x,y,r,fill,op)=>g.append("g").selectAll("circle").data(data).join("circle").attr("cx",d=>x(d[0])).attr("cy",d=>y(d[1])).attr("r",r).attr("fill",fill).attr("opacity",op);
const unrows=rows=>rows.flatMap(([yv,xs])=>xs.map(xv=>[xv,yv]));

function volcano(c){
  const g=svg.append("g");
  const x=d3.scaleLinear().domain(c.xd).range(c.xr), y=d3.scaleLinear().domain(c.yd).range(c.yr);
  g.append("g").attr("transform",`translate(${c.xr[0]},0)`).call(d3.axisLeft(y).tickValues([0,2,4,6,8]).tickSize(13).tickSizeOuter(0).tickPadding(11)).call(a=>styleAxis(a,26));
  g.append("g").attr("transform",`translate(0,${c.yr[0]})`).call(d3.axisBottom(x).tickValues(c.ticks).tickSize(13).tickSizeOuter(0).tickPadding(13).tickFormat(c.fmt)).call(a=>styleAxis(a,25));
  dots(g,c.grey,x,y,5.5,GREY,.42);
  dots(g,unrows(c.core),x,y,5.5,GREY,1);
  dots(g,c.red,x,y,5.5,RED,.42);
  dots(g,c.dense,x,y,5.5,RED,.5);
  rich(g,c.yt[0],c.yt[1],[["−log"],["10",1],["P",0,1]],{rotate:1,size:27});
  rich(g,c.xt[0],c.xt[1],[["log"],["2",1],[c.xlabel]],{size:28});
}
const aLeg=svg.append("g").attr("clip-path","url(#cardClip)");
aLeg.append("circle").attr("cx",219).attr("cy",48).attr("r",10.5).attr("fill",RED).attr("opacity",.42);
txt(aLeg,245,46.5,"HepG2-PAOA DAVs: 338",{anchor:"start",size:27.8});
volcano({xd:[-6.16,5.2],xr:[241,691],yd:[-.41,8.39],yr:[554,102],ticks:[-6,-3,0,3],fmt:int,grey:aGrey,core:aCoreRows,red:aRed,dense:aRedDense,yt:[167,324],xt:[465,630],xlabel:"(fold change)"});
const fLeg=svg.append("g");
fLeg.append("circle").attr("cx",1800).attr("cy",704).attr("r",10.5).attr("fill",RED).attr("opacity",.42);
txt(fLeg,1828,705,"LX-2-TGFβ DAVs: 614",{anchor:"start",size:27});
volcano({xd:[-4.97,5.25],xr:[1729,2194],yd:[-.44,8.39],yr:[1224,756],ticks:[-2.5,0,2.5,5],fmt:num,grey:fGrey,core:fCoreRows,red:fRed,dense:fRedDense,yt:[1651,996],xt:[1961,1296],xlabel:"(fold-change)"});

function venn(c){
  const g=svg.append("g");
  const x=d3.scaleLinear().domain([0,1]).range(c.centers);
  defs.append("clipPath").attr("id",c.id).append("circle").attr("cx",x(1)).attr("cy",c.cy).attr("r",c.r);
  g.append("circle").attr("cx",x(0)).attr("cy",c.cy).attr("r",c.r).attr("fill",c.fills[0]);
  g.append("circle").attr("cx",x(1)).attr("cy",c.cy).attr("r",c.r).attr("fill",c.fills[1]);
  g.append("circle").attr("cx",x(0)).attr("cy",c.cy).attr("r",c.r).attr("fill",c.fills[2]).attr("clip-path",`url(#${c.id})`);
  g.selectAll("circle.e").data([0,1]).join("circle").attr("cx",d=>x(d)).attr("cy",c.cy).attr("r",c.r).attr("fill","none").attr("stroke","#111").attr("stroke-width",c.sw);
  c.names.forEach((n,i)=>txt(g,c.nameX[i],c.nameY,n,{size:27.6}));
  c.counts.forEach((n,i)=>txt(g,c.countX[i],c.countY,n,{size:28}));
}
venn({id:"vb",centers:[1043.5,1239.5],cy:312.5,r:179.5,fills:["#de9bcf","#d2eaf2","#bfb5da"],sw:2.6,names:["PAOA-DAVs","Ctrl-DAVs"],nameX:[1001,1299],nameY:91,counts:bCounts,countX:[984,1148,1302],countY:301});
venn({id:"vg",centers:[339,521],cy:1717.5,r:181,fills:["#f6dfc0","#6fb8d8","#6ba5b3"],sw:1.8,names:["TGFβ-DAVs","Ctrl-DAVs"],nameX:[317.5,543],nameY:1497,counts:gCounts,countX:[265,439,613],countY:1712});

function motif(c){
  const g=svg.append("g");
  const x=d3.scaleLinear().domain(c.xd).range(c.xr), y=d3.scaleLinear().domain(c.yd).range(c.yr);
  g.append("rect").attr("x",c.xr[0]).attr("y",c.yr[1]).attr("width",c.xr[1]-c.xr[0]).attr("height",c.yr[0]-c.yr[1]).attr("fill","none").attr("stroke","#2b2b26").attr("stroke-width",2.2);
  g.append("g").attr("transform",`translate(${c.xr[0]},0)`).call(d3.axisLeft(y).tickValues([-2.5,0,2.5,5]).tickSize(10).tickSizeOuter(0).tickPadding(10).tickFormat(num)).call(a=>{styleAxis(a,24.5);a.select("path.domain").remove();});
  g.append("g").attr("transform",`translate(0,${c.yr[0]})`).call(d3.axisBottom(x).tickValues([-2.5,0,2.5,5]).tickSize(0).tickPadding(20).tickFormat(num)).call(a=>{styleAxis(a,24.5);a.select("path.domain").remove();});
  dots(g,c.grey.concat(unrows(c.core)),x,y,8.8,GREY,1);
  dots(g,c.red,x,y,8.8,"#ee0808",1);
  dots(g,c.blue,x,y,8.8,"#0a08e6",1);
  dots(g,c.over||[],x,y,8.8,GREY,1);
  g.append("line").attr("x1",x(0)).attr("x2",x(0)).attr("y1",c.yr[0]).attr("y2",c.yr[1]).attr("stroke","#2b2b26").attr("stroke-width",1.6);
  g.append("line").attr("x1",c.xr[0]).attr("x2",c.xr[1]-4).attr("y1",y(0)).attr("y2",y(0)).attr("stroke","#2b2b26").attr("stroke-width",1.6);
  c.labels.forEach(l=>txt(g,l[1],l[2],l[0],{anchor:l[3],size:27}));
  if(c.leader) g.append("path").attr("d",d3.line().x(d=>x(d[0])).y(d=>y(d[1]))(c.leader)).attr("stroke","#1b1b19").attr("stroke-width",1.8).attr("fill","none");
  rich(g,c.xt[0],c.xt[1],[["log"],["2",1],["(TF motif enrichment)"]],{size:28});
  txt(g,c.xt[0],c.xt2,c.x2,{size:28});
  rich(g,c.yt[0],c.yt[2],[["log"],["2",1],["(TF motif enrichment)"]],{size:28,rotate:1});
  rich(g,c.yt[1],c.yt[2],[[c.y2]],{size:28,rotate:1});
}
motif({xd:[-2.99,5.47],xr:[1730,2195],yd:[-3.08,5.4],yr:[514,50],grey:cGrey,core:cCoreRows,red:cRed,blue:cBlue,over:cOver,labels:cLabels,xt:[1972,591],xt2:624,x2:"(PAOA versus ctrl)",yt:[1598,1632,281],y2:"(Ctrl versus PAOA)"});
motif({xd:[-3.32,5.41],xr:[973,1456.5],yd:[-3.24,5.39],yr:[1883,1400],grey:hGrey,core:hCoreRows,red:hRed,blue:hBlue,labels:hLabels,leader:hLeader,xt:[1215,1958],xt2:1991,x2:"(TGFβ versus ctrl)",yt:[830,868,1635],y2:"(Ctrl versus TGFβ)"});

function alleles(c){
  const g=svg.append("g");
  const x=d3.scaleLinear().domain([0,1]).range(c.tx);
  const band=d3.scalePoint().domain(c.alleles).range(c.tx);
  const y=d3.scaleLinear().domain(c.yd).range(c.yr);
  g.append("g").attr("transform",`translate(${c.ax0},0)`).call(d3.axisLeft(y).tickValues(c.yticks).tickSize(12).tickSizeOuter(0).tickPadding(13).tickFormat(c.fmt)).call(a=>styleAxis(a,25.5));
  g.append("g").attr("transform",`translate(0,${c.yr[0]})`).call(d3.axisBottom(band).tickSize(12).tickPadding(11)).call(a=>{styleAxis(a,25);a.select("path.domain").remove();});
  g.append("line").attr("x1",c.ax0).attr("x2",c.ax1).attr("y1",c.yr[0]).attr("y2",c.yr[0]).attr("stroke",AXIS).attr("stroke-width",2.4);
  [[c.ctrl,c.dodge[0],SALMON],[c.treat,c.dodge[1],TEAL]].forEach(([vals,off,col])=>{
    vals.forEach((v,i)=>{
      g.append("g").selectAll("circle").data(v).join("circle").attr("cx",x(i)+off[i]).attr("cy",d=>y(d)).attr("r",7.8).attr("fill",col);
    });
  });
  c.legend.forEach(l=>{g.append("circle").attr("cx",c.legX).attr("cy",l[1]).attr("r",7.8).attr("fill",l[2]);txt(g,c.legX+c.legGap,l[1]+1,l[0],{anchor:"start",size:28.5});});
  rich(g,c.yt[0],c.yt[1],[["log"],["2",1],["(RNA/DNA)"]],{rotate:1,size:27.5});
  txt(g,c.xt[0],c.xt[1],c.xlabel,{size:28});
}
alleles({alleles:dAlleles,tx:[369,499],yd:[-.0257,.1063],yr:[1220,757],yticks:[-.025,0,.025,.05,.075,.1],fmt:d=>d===0?"0":d3.format(".3f")(d).replace("-","−"),ax0:302,ax1:574,ctrl:dCtrl,treat:dTreated,dodge:[[-21,-28],[21,15]],legend:[["Ctrl",718,SALMON],["PAOA",750,TEAL]],legX:325,legGap:22,yt:[175,988],xt:[435,1296],xlabel:"rs12406250 allele"});
alleles({alleles:iAlleles,tx:[1863,2024],yd:[.0255,.1244],yr:[1881.5,1399],yticks:[.03,.05,.07,.09,.11],fmt:d3.format(".2f"),ax0:1766,ax1:2121,ctrl:iCtrl,treat:iTreated,dodge:[[-33,-31.5],[32,31]],legend:[["Ctrl",1383,SALMON],["TGFβ",1416,TEAL]],legX:1783,legGap:18,yt:[1648,1660],xt:[1948,1958],xlabel:"rs558702 allele"});

// genome browser panels
function signal(g,x,peaks,base,vmax,px,color,w,shoulder){
  const y=d3.scaleLinear().domain([0,vmax]).range([base,base-px]);
  const area=d3.area().x(d=>d[0]).y0(base).y1(d=>y(d[1]));
  const s=shoulder||.28;
  g.append("g").selectAll("path").data(peaks).join("path").attr("fill",color)
   .attr("d",([p,v])=>{const cx=x(p);return area([[cx-w,0],[cx-w*.35,v*s],[cx,v],[cx+w*.35,v*s],[cx+w,0]]);});
}
function arcs(g,x,pairs,top,bottom,over,color,sw,id,op){
  defs.append("clipPath").attr("id",id).append("rect").attr("x",0).attr("y",top).attr("width",W).attr("height",bottom-top);
  g.append("g").attr("clip-path",`url(#${id})`).selectAll("path").data(pairs).join("path").attr("fill","none").attr("stroke",color).attr("stroke-width",sw).attr("opacity",op)
   .attr("d",([a,b])=>{const p=d3.path(),x0=x(a),x1=x(b);p.moveTo(x0,top);p.quadraticCurveTo((x0+x1)/2,top+2*(bottom-top)*over,x1,top);return p.toString();});
}
function marks(g,x,pos,y0,y1,color){
  g.append("g").selectAll("line").data(pos).join("line").attr("x1",d=>x(d)).attr("x2",d=>x(d)).attr("y1",y0).attr("y2",y1).attr("stroke",color).attr("stroke-width",1.6);
}
function guide(g,x0,x1,y,col,w){g.append("line").attr("x1",x0).attr("x2",x1).attr("y1",y).attr("y2",y).attr("stroke",col).attr("stroke-width",w);}
function scoreKey(g,c){
  txt(g,c.titleX,c.titleY,"Score",{size:c.titleSize});
  g.append("rect").attr("x",c.x).attr("y",c.y0).attr("width",c.w).attr("height",c.y1-c.y0).attr("fill","url(#scoreRamp)");
  const s=d3.scaleLinear().domain([0,.2]).range([c.vy[0],c.vy[1]]);
  g.append("g").attr("transform",`translate(${c.x+c.w},0)`).call(d3.axisRight(s).tickValues(c.ticks).tickSize(c.tick).tickSizeOuter(0).tickPadding(6).tickFormat(d=>d===0?"0":d3.format(".1f")(d))).call(a=>{styleAxis(a,c.tickFont);a.select("path.domain").remove();});
}

// panel e
(function(){
  const g=svg.append("g");
  const x=d3.scaleLinear().domain([-15.7,204.8]).range([859,1504]);
  g.append("rect").attr("x",1176).attr("y",735).attr("width",8.5).attr("height",485).attr("fill","#fffa00");
  guide(g,859,1504,786,"#9a9a96",2.2);guide(g,859,1504,824,"#9a9a96",2.2);
  guide(g,859,1504,833.5,"#dedede",3);guide(g,859,1504,891,"#dedede",3);
  guide(g,x(-6),x(195),1026.5,"#b9d5e4",1.4);
  signal(g,x,eMasld,786,600,36,"#e98a7e",2.6);
  signal(g,x,eNormal,824,600,36,"#36b7ae",2.6);
  arcs(g,x,eLinks,833,881,1,LINK,1.6,"eL",.9);
  arcs(g,x,eLoops,891,938,1.03,LOOP,1.6,"eO",.92);
  signal(g,x,eAc,982,50,35,"#a5351d",4.2,.3);
  signal(g,x,eMe1,1027,20,33.5,"#1c6fa2",4.2,.32);
  signal(g,x,eMe3,1072,40,34,"#d5852a",3.4,.42);
  marks(g,x,eMpra,1097,1107,"#f29a9a");
  marks(g,x,eTreatDav,1131,1141,"#f29a9a");
  marks(g,x,eCtrlDav,1159,1169.5,"#f29a9a");
  [["MASLD-hepatocyte",787],["Normal-hepatocyte",823],["Links",874],["Loop",921],["H3K27ac",968],["H3K4me1",1010],["H3K4me3",1052],["MPRA loci",1089],["PAOA DAVs",1126],["Ctrl DAVs",1161]].forEach(l=>txt(g,844,l[1],l[0],{anchor:"end",size:27.3}));
  [["[0–600]",745],["[0–50]",962],["[0–20]",1004],["[0–40]",1048]].forEach(l=>txt(g,870,l[1],l[0],{anchor:"start",size:24.5}));
  txt(g,1180,714,"rs12406250",{size:27.8});
  const rowY=[1203,1227];
  eGenes.forEach(a=>{
    const y=rowY[a.row];
    g.append("line").attr("x1",x(a.start)).attr("x2",x(a.end)).attr("y1",y).attr("y2",y).attr("stroke",a.color).attr("stroke-width",1.6);
    g.append("g").selectAll("rect").data(a.exons).join("rect").attr("x",d=>x(d)-1).attr("y",y-3.5).attr("width",2).attr("height",7).attr("fill",a.color);
  });
  [["FAM131C",937,1181],["EPHA2",1168,1206],["ARHGEF19",1401,1206]].forEach(l=>txt(g,l[1],l[2],l[0],{italic:1,size:27.5}));
  g.append("g").attr("transform","translate(0,1235.5)").call(d3.axisBottom(x).tickValues(eTicks).tickSize(13).tickSizeOuter(0).tickPadding(13).tickFormat(d=>((16050+d)/1000).toFixed(2)+" Mb")).call(a=>styleAxis(a,23.5));
  txt(g,1167,1310,"Chr. 1 position (bp)",{size:28});
  scoreKey(g,{x:1484,w:16,titleX:1514,titleY:853,titleSize:27,y0:878.5,y1:937,vy:[934.5,882],ticks:[0,.2],tick:10,tickFont:25});
})();

// panel j
(function(){
  const g=svg.append("g");
  const x=d3.scaleLinear().domain([0,300]).range([381,1015]);
  g.append("rect").attr("x",694).attr("y",2063).attr("width",7.5).attr("height",442).attr("fill","#fffa00");
  guide(g,381,1015,2093.5,"#a2a29e",2.6);guide(g,381,1015,2128.5,"#a2a29e",2.2);
  guide(g,381,1015,2138,"#dedede",2.5);guide(g,381,1015,2190.5,"#dedede",3);
  guide(g,x(16),x(290),2315,"#cfe3ec",1.4);
  signal(g,x,jMasld,2093.5,85,31,"#e07a6e",2.6);
  signal(g,x,jNormal,2128.5,85,31,"#1fb0ae",2.6);
  arcs(g,x,jLinks,2138,2180,1,LINK,1.5,"jL",.85);
  arcs(g,x,jLoops,2191,2233,1.25,LOOP,2,"jO",.95);
  guide(g,x(24),x(248),2231.5,"#2a16d0",3);
  signal(g,x,jAc,2273.8,85,31,"#a5351d",4,.42);
  signal(g,x,jMe1,2315,85,32,"#1c6fa2",4,.4);
  signal(g,x,jMe3,2356,85,31,"#d5852a",3.8,.8);
  marks(g,x,jMpra,2375,2385.5,"#f4b0b0");
  marks(g,x,jTreatDav,2415.5,2426,"#f4b0b0");
  marks(g,x,jCtrlDav,2457,2468,"#f4b0b0");
  [["MASLD-stellate",2083],["Normal-stellate",2119.5],["Links",2166.5],["Loop",2212],["H3K27ac",2262],["H3K4me1",2305.5],["H3K4me3",2343],["MPRA loci",2380],["TGFβ DAVs",2420.5],["Ctrl DAVs",2464]].forEach(l=>txt(g,369,l[1],l[0],{anchor:"end",size:27.3}));
  [["[0–100]",2052],["[0–50]",2243],["[0–20]",2286],["[0–40]",2330]].forEach(l=>txt(g,394.5,l[1],l[0],{anchor:"start",size:25}));
  txt(g,698,2045,"rs558702",{size:27.5});
  const rowY=d3.scaleLinear().domain([0,1]).range([2480,2553]);
  jGenes.forEach(a=>{
    const y=rowY(a.row);
    g.append("line").attr("x1",x(a.x0)).attr("x2",x(a.x1)).attr("y1",y).attr("y2",y).attr("stroke",a.color).attr("stroke-width",1.4);
    g.append("g").selectAll("rect").data(a.exons).join("rect").attr("x",d=>x(d[0])).attr("width",d=>x(d[1])-x(d[0])).attr("y",y-3.2).attr("height",6.4).attr("fill",a.color);
  });
  [["HSPA1A",419,2523],["HSPA1B",521,2517],["SLC44A4",611,2547],["ZBTB12",719,2550],["NELFE",812,2538],["CFB",827,2513],["STK19",883,2481]].forEach(l=>txt(g,l[1],l[2],l[0],{italic:1,size:24.3}));
  scoreKey(g,{x:952,w:13,titleX:978,titleY:2125,titleSize:23,y0:2146,y1:2202,vy:[2201.5,2155],ticks:[0,.1,.2],tick:0,tickFont:24});
})();

[["d",145,699],["e",819,700],["f",1642,698],["g",145,1385],["h",818,1382],["i",1639,1381],["j",136,2025]].forEach(l=>letter(...l));
</script>
</body></html>
